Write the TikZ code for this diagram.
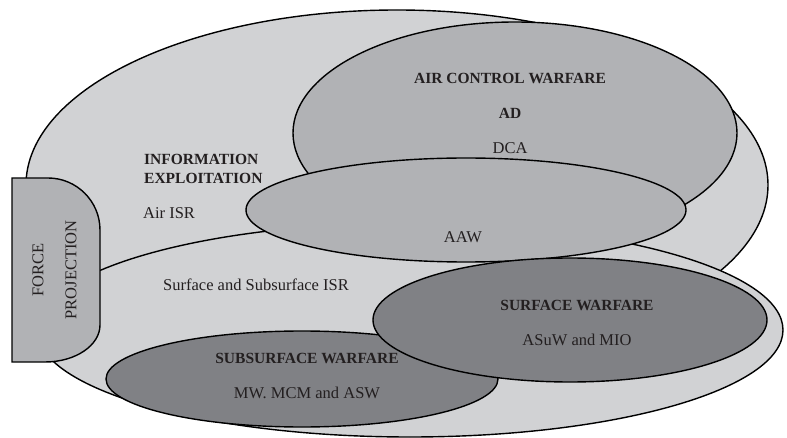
\documentclass[tikz,border=0pt]{standalone}
\usepackage{fontspec}
\setmainfont{Liberation Serif}
\definecolor{lightg}{HTML}{D1D2D4}
\definecolor{midg}{HTML}{B1B2B5}
\definecolor{darkg}{HTML}{808185}
\definecolor{ink}{HTML}{231F20}
\tikzset{
  region/.style={draw=black, line width=1.4pt},
  lbl/.style={text=ink, inner sep=0pt, font=\fontsize{16.5}{19}\selectfont},
  blbl/.style={text=ink, inner sep=0pt, font=\fontsize{15.5}{19}\selectfont\bfseries},
}
\begin{document}
\begin{tikzpicture}[x=1pt,y=-1pt]
\useasboundingbox (0,0) rectangle (787,438);
% big domains
\draw[region, fill=lightg] (397,185) ellipse [x radius=371pt, y radius=175pt];
\draw[region, fill=lightg] (410,330) ellipse [x radius=373pt, y radius=107pt];
% air control warfare and AAW
\draw[region, fill=midg] (515,133) ellipse [x radius=222pt, y radius=111pt];
\draw[region, fill=midg] (466,210) ellipse [x radius=220pt, y radius=52pt];
% subsurface and surface warfare
\draw[region, fill=darkg] (302,379) ellipse [x radius=196pt, y radius=48pt];
\draw[region, fill=darkg] (570,320) ellipse [x radius=197pt, y radius=62pt];
% force projection
\draw[region, fill=midg] (12,362) -- (12,178) -- (48,178)
  .. controls (76.7,178) and (100,201.3) .. (100,230)
  -- (100,325)
  .. controls (100,345.4) and (75.4,362) .. (45,362) -- cycle;
% labels
\node[blbl] (acw) at (510,78) {AIR CONTROL WARFARE};
\node[blbl] (ad) at (510,113) {AD};
\node[lbl] (dca) at (510,148) {DCA};
\node[blbl, align=left, anchor=west] (ie) at (144,169) {INFORMATION\\EXPLOITATION};
\node[lbl, anchor=west] (airisr) at (143,213) {Air ISR};
\node[lbl] (aaw) at (463,237) {AAW};
\node[lbl] (ssisr) at (256,285) {Surface and Subsurface ISR};
\node[blbl] (sw) at (577,305) {SURFACE WARFARE};
\node[lbl] (asuw) at (577,340) {ASuW and MIO};
\node[blbl] (ssw) at (307,358) {SUBSURFACE WARFARE};
\node[lbl] (mw) at (307,393) {MW. MCM and ASW};
\node[lbl, rotate=90] (force) at (38,270) {FORCE};
\node[lbl, rotate=90] (proj) at (71,270) {PROJECTION};
\end{tikzpicture}
\end{document}
